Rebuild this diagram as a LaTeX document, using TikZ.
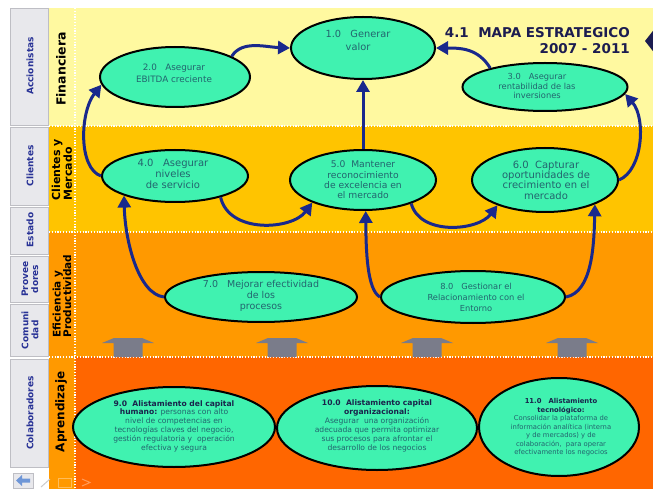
\documentclass[tikz,border=0pt]{standalone}
\usepackage{fontspec}
\setmainfont{DejaVu Sans}
\usetikzlibrary{arrows.meta,shapes.geometric}

\definecolor{finband}{RGB}{255,249,160}
\definecolor{cliband}{RGB}{255,196,0}
\definecolor{efiband}{RGB}{255,153,0}
\definecolor{aprband}{RGB}{255,102,0}
\definecolor{mint}{RGB}{64,242,176}
\definecolor{flowblue}{RGB}{25,40,140}
\definecolor{bodytxt}{RGB}{35,100,110}
\definecolor{headtxt}{RGB}{25,35,75}
\definecolor{titlenavy}{RGB}{28,28,80}
\definecolor{tabfill}{RGB}{232,232,236}
\definecolor{tabline}{RGB}{190,190,196}
\definecolor{tabtxt}{RGB}{40,50,150}
\definecolor{blockgray}{RGB}{122,124,138}
\definecolor{navbtn}{RGB}{110,150,215}

\newcommand{\fsz}[2]{\fontsize{#1}{#2}\selectfont}
\newcommand{\hd}[1]{\textcolor{headtxt}{\textbf{#1}}}

\begin{document}
\begin{tikzpicture}[x=1pt,y=-1pt,
  goal/.style={ellipse, draw=black, line width=2pt, fill=mint, inner sep=0pt},
  goaltext/.style={align=center, text=bodytxt, inner sep=0pt},
  flow/.style={draw=flowblue, line width=3pt, -{Triangle[length=12pt,width=13pt]}},
  tab/.style={draw=tabline, fill=tabfill, line width=0.8pt},
  tablabel/.style={rotate=90, text=tabtxt, font=\bfseries\fsz{9}{10}, align=center, inner sep=0pt},
  bandlabel/.style={rotate=90, text=black, align=left, inner sep=0pt},
  divider/.style={white, line width=1.2pt, dash pattern=on 1.2pt off 1.6pt},
]
\useasboundingbox (0,0) rectangle (653,489);
\clip (0,0) rectangle (653,489);
\fill[white] (0,0) rectangle (653,489);

% perspective bands
\fill[finband] (49,8) rectangle (653,126);
\fill[cliband] (49,126) rectangle (653,232);
\fill[efiband] (49,232) rectangle (653,357);
\fill[aprband] (75,357) rectangle (653,489);
\fill[efiband] (49,357) rectangle (75,489);

\draw[divider] (75,8) -- (75,489);
\draw[divider] (49,126) -- (653,126);
\draw[divider] (49,232) -- (653,232);
\draw[divider] (49,357) -- (653,357);

% stakeholder tabs
\draw[tab] (10,8) rectangle (48,125);
\draw[tab] (10,127) rectangle (48,205);
\draw[tab] (10,207) rectangle (48,254);
\draw[tab] (10,256) rectangle (48,302);
\draw[tab] (10,304) rectangle (48,356);
\draw[tab] (10,359) rectangle (48,467);

\node[tablabel] (tAcc) at (30,66) {Accionistas};
\node[tablabel] (tCli) at (30,166) {Clientes};
\node[tablabel] (tEst) at (30,230) {Estado};
\node[tablabel] (tPro) at (30,279) {Provee\\dores};
\node[tablabel] (tCom) at (30,330) {Comuni\\dad};
\node[tablabel] (tCol) at (30,413) {Colaboradores};

% perspective labels
\node[bandlabel, font=\bfseries\fsz{12.5}{13}] (lFin) at (61,69) {Financiera};
\node[bandlabel, font=\bfseries\fsz{11}{10.5}] (lCli) at (62,170) {Clientes y\\Mercado};
\node[bandlabel, font=\bfseries\fsz{10.5}{10.5}] (lEfi) at (62,296) {Eficiencia y\\Productividad};
\node[bandlabel, font=\bfseries\fsz{12}{13}] (lApr) at (61,412) {Aprendizaje};

% title
\node[anchor=east, text=titlenavy, font=\bfseries\fsz{13.5}{16}, align=right, inner sep=0pt] (title) at (630,41) {4.1\ \ MAPA ESTRATEGICO\\2007 - 2011};
\fill[titlenavy] (645,41) -- (656,27) -- (667,41) -- (656,55) -- cycle;

% support arrows between learning and process levels
\foreach \x in {128,282,427,572}
  \fill[blockgray] (\x-14.5,357) -- (\x-14.5,343) -- (\x-26,343) -- (\x-14,338) -- (\x+14,338) -- (\x+26,343) -- (\x+14.5,343) -- (\x+14.5,357) -- cycle;

% objectives
\node[goal, minimum width=144pt, minimum height=62pt] (e1) at (363,48) {};
\node[goal, minimum width=150pt, minimum height=60pt] (e2) at (175,77) {};
\node[goal, minimum width=165pt, minimum height=48pt] (e3) at (545,87) {};
\node[goal, minimum width=146pt, minimum height=52pt] (e4) at (175,176) {};
\node[goal, minimum width=146pt, minimum height=60pt] (e5) at (363,180) {};
\node[goal, minimum width=146pt, minimum height=64pt] (e6) at (545,180) {};
\node[goal, minimum width=192pt, minimum height=50pt] (e7) at (261,297) {};
\node[goal, minimum width=184pt, minimum height=52pt] (e8) at (473,297) {};
\node[goal, minimum width=202pt, minimum height=80pt] (e9) at (174,427) {};
\node[goal, minimum width=200pt, minimum height=84pt] (e10) at (377,428) {};
\node[goal, minimum width=160pt, minimum height=98pt] (e11) at (559,427) {};

\node[goaltext, font=\fsz{9.8}{13}] (t1) at (358,40.5) {1.0\ \ \ Generar\\valor};
\node[goaltext, font=\fsz{8.8}{12.5}] (t2) at (174,73.5) {2.0\ \ \ Asegurar\\EBITDA creciente};
\node[goaltext, font=\fsz{8.3}{9.5}] (t3) at (537,86) {3.0\ \ \ Asegurar\\rentabilidad de las\\inversiones};
\node[goaltext, font=\fsz{10}{11}] (t4) at (173,174) {4.0\ \ \ Asegurar\\niveles\\de servicio};
\node[goaltext, font=\fsz{9.2}{10.3}] (t5) at (363,180) {5.0\ \ Mantener\\reconocimiento\\de excelencia en\\el mercado};
\node[goaltext, font=\fsz{10}{10.4}] (t6) at (546,180) {6.0\ \ Capturar\\oportunidades de\\crecimiento en el\\mercado};
\node[goaltext, font=\fsz{9.5}{11}] (t7) at (261,296) {7.0\ \ \ Mejorar efectividad\\de los\\procesos};
\node[goaltext, font=\fsz{8.3}{11}] (t8) at (476,297) {8.0\ \ \ Gestionar el\\Relacionamiento con el\\Entorno};
\node[goaltext, font=\fsz{7.6}{8.8}] (t9) at (174,426) {\hd{9.0\ \ Alistamiento del capital}\\\hd{humano:} personas con alto\\nivel de competencias en\\tecnologías claves del negocio,\\gestión regulatoria y\ \ operación\\efectiva y segura};
\node[goaltext, font=\fsz{7.6}{9}] (t10) at (377,425.5) {\hd{10.0\ \ Alistamiento capital}\\\hd{organizacional:}\\Asegurar\ \ una organización\\adecuada que permita optimizar\\sus procesos para afrontar el\\desarrollo de los negocios};
\node[goaltext, font=\fsz{6.8}{8.5}] (t11) at (561,427.5) {\hd{11.0\ \ \ Alistamiento}\\\hd{tecnológico:}\\Consolidar la plataforma de\\información analítica (interna\\y de mercados) y de\\colaboración,\ \ para operar\\efectivamente los negocios};

% cause and effect links
\draw[flow] (e4.west) .. controls (78,168) and (80,112) .. (e2.186);
\draw[flow] (e2.20) .. controls (242,40) and (265,47) .. (e1.west);
\draw[flow] (e3.161) .. controls (478,48) and (460,48) .. (e1.east);
\draw[flow] (e5.north) -- (e1.south);
\draw[flow] (e6.east) .. controls (643,170) and (646,118) .. (e3.355);
\draw[flow] (e4.335) .. controls (229,234) and (292,230) .. (e5.204);
\draw[flow] (e5.334) .. controls (420,236) and (478,231) .. (e6.208);
\draw[flow] (e7.west) .. controls (138,294) and (125,240) .. (e4.201);
\draw[flow] (e8.west) .. controls (367,290) and (366,250) .. (e5.275);
\draw[flow] (e8.east) .. controls (592,292) and (594,246) .. (e6.334);

% slide navigation buttons
\draw[tabline, fill=tabfill] (13,473) rectangle (33,488);
\fill[navbtn] (16,480.5) -- (22,475) -- (22,478.5) -- (30,478.5) -- (30,482.5) -- (22,482.5) -- (22,486) -- cycle;
\draw[gray!40, line width=1pt] (41,487) -- (50,479);
\draw[white, opacity=0.35, line width=0.8pt] (58,478) rectangle (71,487);
\draw[white, opacity=0.35, line width=1pt] (82,479) -- (90,482.5) -- (82,486);
\end{tikzpicture}
\end{document}
